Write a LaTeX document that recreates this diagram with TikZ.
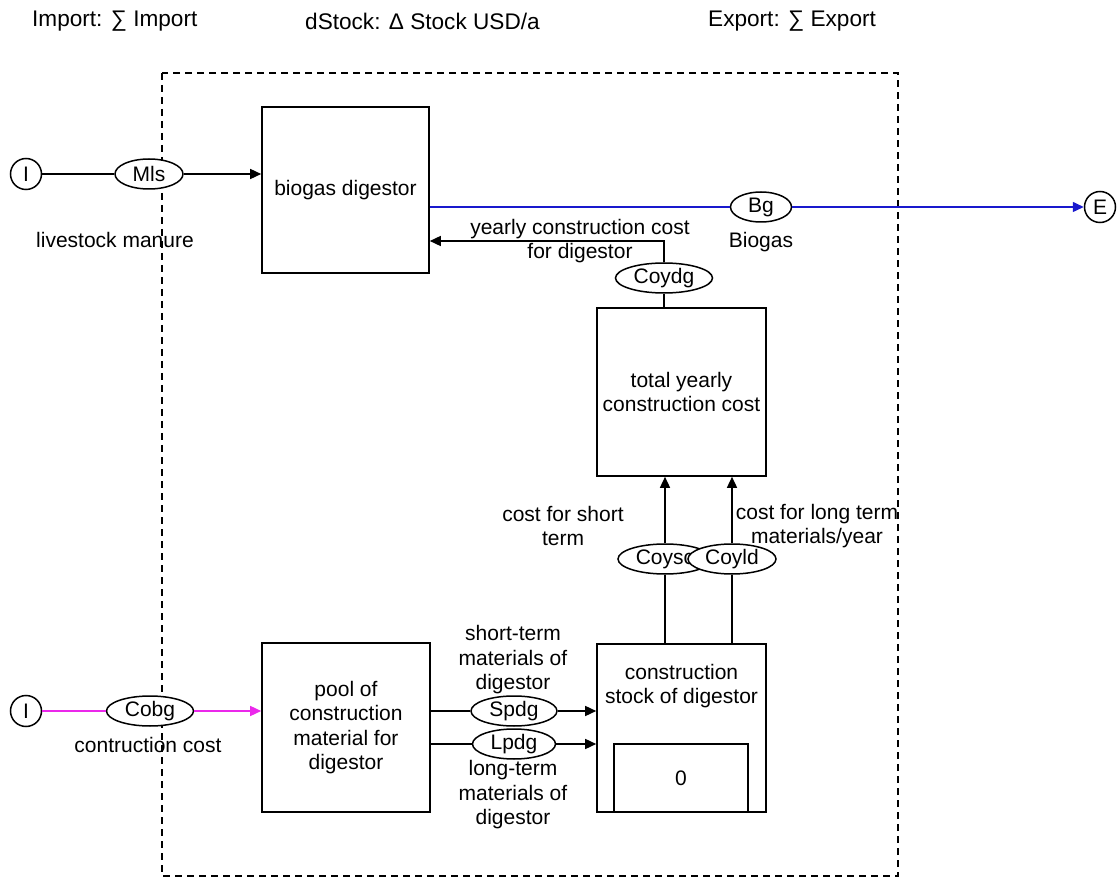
\documentclass[tikz,border=0pt]{standalone}
\usepackage{fontspec}
\setmainfont{Liberation Sans}
\usetikzlibrary{arrows.meta,shapes.geometric}
\definecolor{flowblue}{RGB}{25,25,205}
\definecolor{flowmag}{RGB}{235,40,235}
\begin{document}
\begin{tikzpicture}[x=1pt,y=-1pt,
  every node/.style={font=\fontsize{21}{24.5}\selectfont},
  >={Triangle[length=11pt,width=10pt]},
  box/.style={draw, line width=1.6pt, rectangle, inner sep=0, align=center},
  flowell/.style={draw, ellipse, fill=white, line width=1.5pt, inner sep=0, minimum height=30pt},
  io/.style={draw, circle, line width=1.5pt, minimum size=31pt, inner sep=0},
  conn/.style={line width=1.5pt},
  txt/.style={align=center, inner sep=0},
  head/.style={anchor=west, inner sep=0, font=\fontsize{22.6}{26}\selectfont},
  frame/.style={line width=1.6pt, dash pattern=on 7pt off 5pt}
]
\useasboundingbox (0,0) rectangle (1120,877);
% header texts
\node[head] (himp) at (32,21) {Import: ∑ Import};
\node[head] (hstock) at (305,21) {dStock: Δ Stock USD/a};
\node[head] (hexp) at (708,21) {Export: ∑ Export};
% system border
\draw[frame] (162,73) rectangle (898,876);
% nodes
\node[io] (I1) at (26,174) {I};
\node[flowell, minimum width=68pt] (Mls) at (149,174) {Mls};
\node[box, minimum width=167pt, minimum height=166pt] (biogas) at (345.5,190) {biogas digestor};
\node[txt] (lm) at (115,240) {livestock manure};
\node[flowell, minimum width=61pt] (Bg) at (761,207) {Bg};
\node[txt] (bgl) at (761,242) {Biogas};
\node[io] (E) at (1100,207) {E};
\coordinate (ycorner) at (664,241);
\node[txt] (ycl) at (580,241) {yearly construction cost\\for digestor};
\node[flowell, minimum width=97pt] (Coydg) at (664,278) {Coydg};
\node[box, minimum width=169pt, minimum height=168pt] (total) at (681.5,392) {total yearly\\construction cost};
\node[txt] (csl) at (563,526) {cost for short\\term};
\node[txt] (cll) at (817,526) {cost for long term\\materials/year};
\node[flowell, minimum width=94pt] (Coysc) at (665,559) {Coysc};
\node[flowell, minimum width=88pt] (Coyld) at (732,559) {Coyld};
\node[box, minimum width=169pt, minimum height=168pt] (stock) at (681.5,728) {};
\node[txt] (stl) at (681.5,686) {construction\\stock of digestor};
\node[box, minimum width=134pt, minimum height=68pt] (stockval) at (681,778) {0};
\node[box, minimum width=168pt, minimum height=169pt] (pool) at (346,727.5) {pool of\\construction\\material for\\digestor};
\node[flowell, minimum width=86pt] (Spdg) at (514,711) {Spdg};
\node[flowell, minimum width=83pt] (Lpdg) at (514,744) {Lpdg};
\node[txt] (spl) at (513,660) {short-term\\materials of\\digestor};
\node[txt] (lpl) at (513,795) {long-term\\materials of\\digestor};
\node[io] (I2) at (26,711) {I};
\node[flowell, minimum width=87pt] (Cobg) at (150,711) {Cobg};
\node[txt] (cbl) at (148,745) {contruction cost};
% connectors
\draw[conn] (I1) -- (Mls);
\draw[conn,->] (Mls) -- (Mls -| biogas.west);
\draw[conn,flowblue] (biogas.east |- Bg) -- (Bg);
\draw[conn,flowblue,->] (Bg) -- (E);
\draw[conn] (total.north -| Coydg) -- (Coydg);
\draw[conn,->] (Coydg) -- (ycorner) -- (ycorner -| biogas.east);
\draw[conn] (stock.north -| Coysc) -- (Coysc);
\draw[conn,->] (Coysc) -- (Coysc |- total.south);
\draw[conn] (stock.north -| Coyld) -- (Coyld);
\draw[conn,->] (Coyld) -- (Coyld |- total.south);
\draw[conn] (pool.east |- Spdg) -- (Spdg);
\draw[conn,->] (Spdg) -- (Spdg -| stock.west);
\draw[conn] (pool.east |- Lpdg) -- (Lpdg);
\draw[conn,->] (Lpdg) -- (Lpdg -| stock.west);
\draw[conn,flowmag] (I2) -- (Cobg);
\draw[conn,flowmag,->] (Cobg) -- (Cobg -| pool.west);
\end{tikzpicture}
\end{document}
